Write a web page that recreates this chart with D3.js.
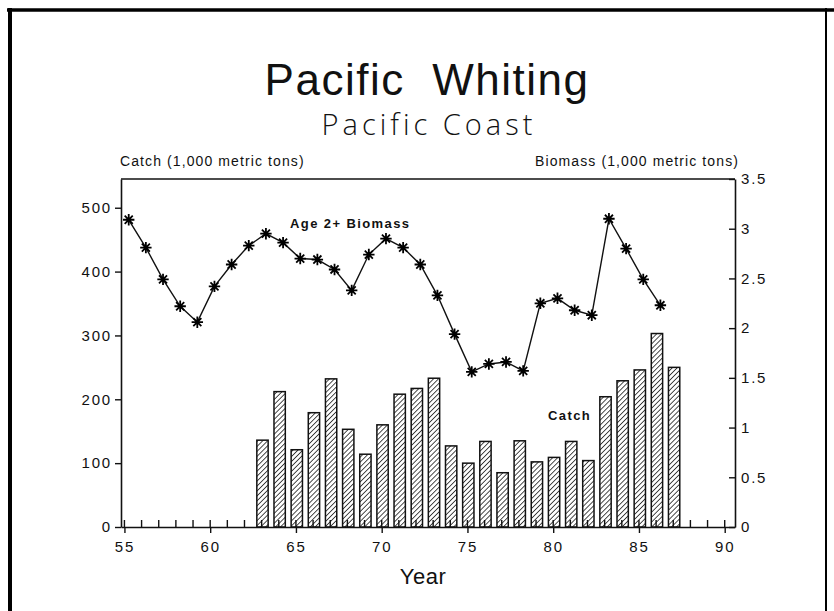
<!DOCTYPE html>
<html>
<head>
<meta charset="utf-8">
<script src="https://cdn.jsdelivr.net/npm/d3@7"></script>
<style>
  body { margin: 0; background: #fff; }
  svg { display: block; }
  text { font-family: "Liberation Sans", Arial, Helvetica, sans-serif; fill: #111; }
</style>
</head>
<body>
<div id="chart"></div>
<script>
// catch, 1,000 metric tons (left axis)
var catchYears = [63, 64, 65, 66, 67, 68, 69, 70, 71, 72, 73, 74, 75,
                  76, 77, 78, 79, 80, 81, 82, 83, 84, 85, 86, 87];
var catchValues = [136, 212, 121, 179, 232, 153, 114, 160, 208, 217, 233, 127, 100,
                   134, 85, 135, 102, 109, 134, 104, 204, 229, 246, 303, 250];

// age 2+ biomass (right axis)
var biomassYears = [55, 56, 57, 58, 59, 60, 61, 62, 63, 64, 65, 66, 67, 68, 69, 70,
                    71, 72, 73, 74, 75, 76, 77, 78, 79, 80, 81, 82, 83, 84, 85, 86];
var biomassValues = [3.09, 2.81, 2.49, 2.22, 2.06, 2.42, 2.64, 2.83, 2.95, 2.86, 2.70, 2.69, 2.59, 2.38, 2.74, 2.90,
                     2.81, 2.64, 2.33, 1.94, 1.56, 1.64, 1.66, 1.57, 2.25, 2.30, 2.18, 2.13, 3.10, 2.80, 2.49, 2.23];

var xTicks = [55, 60, 65, 70, 75, 80, 85, 90];
var xMinor = [55, 56, 57, 58, 59, 60, 61, 62, 63, 64, 65, 66, 67, 68, 69, 70, 71, 72,
              73, 74, 75, 76, 77, 78, 79, 80, 81, 82, 83, 84, 85, 86, 87, 88, 89, 90];
var leftTicks = [0, 100, 200, 300, 400, 500];
var rightTicks = [0, 0.5, 1, 1.5, 2, 2.5, 3, 3.5];

var W = 834, H = 611;
var svg = d3.select('#chart').append('svg')
    .attr('width', W)
    .attr('height', H);

svg.append('rect').attr('width', W).attr('height', H).attr('fill', '#fff');

// page frame
svg.append('line').attr('x1', 7).attr('x2', W).attr('y1', 10).attr('y2', 10)
    .attr('stroke', '#000').attr('stroke-width', 3.5);
svg.append('line').attr('x1', 10).attr('x2', 10).attr('y1', 8).attr('y2', H)
    .attr('stroke', '#000').attr('stroke-width', 4);
svg.append('line').attr('x1', 826).attr('x2', 826).attr('y1', 8).attr('y2', H)
    .attr('stroke', '#000').attr('stroke-width', 2);

var x = d3.scaleLinear().domain([54.8, 90.6]).range([121, 735]);
var yL = d3.scaleLinear().domain([0, 545]).range([527, 179]);
var yR = d3.scaleLinear().domain([0, 3.5]).range([527, 179]);

// hatch for the catch bars
var defs = svg.append('defs');
defs.append('pattern')
    .attr('id', 'hatch')
    .attr('patternUnits', 'userSpaceOnUse')
    .attr('width', 3.5).attr('height', 3.5)
    .attr('patternTransform', 'rotate(45)')
  .append('line')
    .attr('x1', 0).attr('y1', 0).attr('x2', 0).attr('y2', 3.5)
    .attr('stroke', '#111').attr('stroke-width', 1.5);

// titles
svg.append('text')
    .attr('x', 427).attr('y', 95)
    .attr('text-anchor', 'middle')
    .style('font-size', '44px')
    .style('letter-spacing', '1.5px')
    .text('Pacific\u00a0 Whiting');

svg.append('text')
    .attr('x', 429).attr('y', 135)
    .attr('text-anchor', 'middle')
    .style('font-family', '"Open Sans", "Liberation Sans", sans-serif')
    .style('font-size', '29px')
    .style('font-weight', 300)
    .style('letter-spacing', '4px')
    .text('Pacific Coast');

svg.append('text')
    .attr('x', 120).attr('y', 166)
    .style('font-size', '14px')
    .style('letter-spacing', '1.1px')
    .text('Catch (1,000 metric tons)');

svg.append('text')
    .attr('x', 739).attr('y', 166)
    .attr('text-anchor', 'end')
    .style('font-size', '14px')
    .style('letter-spacing', '1.1px')
    .text('Biomass (1,000 metric tons)');

// bars
svg.selectAll('rect.bar')
    .data(catchValues)
    .enter()
    .append('rect')
    .attr('class', 'bar')
    .attr('x', function (d, i) { return x(catchYears[i] - 0.28); })
    .attr('width', function (d, i) { return x(catchYears[i] + 0.38) - x(catchYears[i] - 0.28); })
    .attr('y', function (d) { return yL(d); })
    .attr('height', function (d) { return yL(0) - yL(d); })
    .attr('fill', 'url(#hatch)')
    .attr('stroke', '#111')
    .attr('stroke-width', 1.5);

// frame top
svg.append('line').attr('x1', x(54.8)).attr('x2', x(90.6)).attr('y1', yL(545)).attr('y2', yL(545))
    .attr('stroke', '#111').attr('stroke-width', 1.6);

// left axis
var gL = svg.append('g')
    .attr('transform', 'translate(' + x(54.8) + ',0)')
    .call(d3.axisLeft(yL).tickValues(leftTicks).tickSize(6).tickSizeOuter(0).tickPadding(3));

// right axis
var gR = svg.append('g')
    .attr('transform', 'translate(' + x(90.6) + ',0)')
    .call(d3.axisRight(yR).tickValues(rightTicks).tickSizeInner(-6).tickSizeOuter(0).tickPadding(6)
        .tickFormat(function (d) { return d; }));

// bottom axis
var gB = svg.append('g')
    .attr('transform', 'translate(0,' + yL(0) + ')')
    .call(d3.axisBottom(x).tickValues(xTicks).tickSize(6).tickSizeOuter(0).tickPadding(8));

gB.selectAll('line.minor')
    .data(xMinor)
    .enter()
    .append('line')
    .attr('class', 'minor')
    .attr('x1', function (d) { return x(d); })
    .attr('x2', function (d) { return x(d); })
    .attr('y1', 0).attr('y2', -7)
    .attr('stroke', '#111').attr('stroke-width', 1.4);

[gL, gR, gB].forEach(function (g) {
    g.select('.domain').attr('stroke', '#111').attr('stroke-width', 1.6);
    g.selectAll('.tick line').attr('stroke', '#111').attr('stroke-width', 1.4);
    g.selectAll('.tick text')
        .attr('fill', '#111')
        .style('font-family', '"Liberation Sans", Arial, sans-serif')
        .style('font-size', '15px')
        .style('letter-spacing', '1.8px');
});

svg.append('text')
    .attr('x', 423).attr('y', 584)
    .attr('text-anchor', 'middle')
    .style('font-size', '22px')
    .style('letter-spacing', '0.5px')
    .text('Year');

// biomass line
var line = d3.line()
    .x(function (d, i) { return x(biomassYears[i] + 0.25); })
    .y(function (d) { return yR(d); });

svg.append('path')
    .datum(biomassValues)
    .attr('d', line)
    .attr('fill', 'none')
    .attr('stroke', '#111')
    .attr('stroke-width', 1.4);

// asterisk marker, 8 arms
var asterisk = {
    draw: function (context, size) {
        var r = Math.sqrt(size) / 2;
        for (var k = 0; k < 4; k++) {
            var a = k * Math.PI / 4;
            context.moveTo(-r * Math.cos(a), -r * Math.sin(a));
            context.lineTo(r * Math.cos(a), r * Math.sin(a));
        }
    }
};

svg.selectAll('path.star')
    .data(biomassValues)
    .enter()
    .append('path')
    .attr('class', 'star')
    .attr('transform', function (d, i) {
        return 'translate(' + x(biomassYears[i] + 0.25) + ',' + yR(d) + ')';
    })
    .attr('d', d3.symbol().type(asterisk).size(130))
    .attr('fill', 'none')
    .attr('stroke', '#000')
    .attr('stroke-width', 1.8);

// series labels
svg.append('text')
    .attr('x', 290).attr('y', 228)
    .style('font-size', '13px')
    .style('font-weight', 'bold')
    .style('letter-spacing', '1.4px')
    .text('Age 2+ Biomass');

svg.append('text')
    .attr('x', 548).attr('y', 420)
    .style('font-size', '13px')
    .style('font-weight', 'bold')
    .style('letter-spacing', '1.4px')
    .text('Catch');
</script>
</body>
</html>
